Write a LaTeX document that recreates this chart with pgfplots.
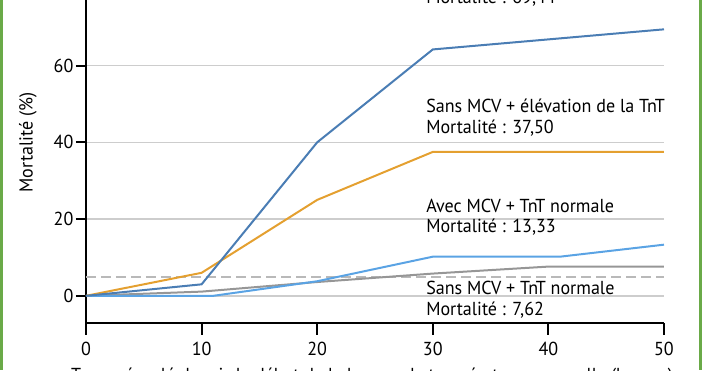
\documentclass[border=0pt]{standalone}
\usepackage{fontspec}
\setmainfont[FakeStretch=0.96]{PT Sans}
\usepackage{pgfplots}
\pgfplotsset{compat=1.18}
\definecolor{dblue}{RGB}{74,125,180}
\definecolor{lblue}{RGB}{90,163,228}
\definecolor{orng}{RGB}{228,160,48}
\definecolor{lgray}{RGB}{150,150,150}
\definecolor{dashgray}{RGB}{185,185,185}
\definecolor{gridgray}{RGB}{205,205,205}
\definecolor{bordergreen}{RGB}{106,170,72}
\newcommand{\lf}{\fontsize{9.4}{11}\selectfont}
\begin{document}
\begin{tikzpicture}[x=1pt,y=1pt]
\useasboundingbox (-43,-23.65) rectangle (308,161.35);
\clip (-43,-23.65) rectangle (308,161.35);
\begin{axis}[
  at={(0,0)}, anchor=south west,
  scale only axis, width=289pt, height=166.95pt,
  xmin=0, xmax=50, ymin=-7, ymax=80,
  axis x line*=bottom, axis y line*=left,
  xtick={0,10,20,30,40,50}, ytick={0,20,40,60,80},
  tick align=outside,
  xtick style={black, line width=1pt, /pgfplots/major tick length=6pt},
  ytick style={black, line width=1pt, /pgfplots/major tick length=5pt},
  axis line style={black, line width=1pt},
  ymajorgrids, grid style={gridgray, line width=0.8pt},
  tick label style={font=\lf},
  xticklabel style={yshift=-2pt},
  yticklabel style={xshift=1.5pt},
  /pgf/number format/assume math mode=true,
  clip=false,
]
\addplot[dashgray, line width=0.8pt, dash pattern=on 5pt off 2.5pt] coordinates {(0,4.87) (50,4.87)};
\addplot[lgray, line width=1pt] coordinates {(0,0) (10,1.1) (20,3.6) (30,5.8) (40,7.62) (50,7.62)};
\addplot[lblue, line width=1pt] coordinates {(0,0) (11,0) (20,3.8) (30,10.2) (41,10.2) (50,13.33)};
\addplot[orng, line width=1pt] coordinates {(0,0) (10,6) (20,25) (30,37.5) (50,37.5)};
\addplot[dblue, line width=1pt] coordinates {(0,0) (10,3) (20,40) (30,64.2) (50,69.44)};
\node[anchor=west, inner sep=0, font=\lf] at (axis cs:29.4,83.3) {Avec MCV + élévation de la TnT};
\node[anchor=west, inner sep=0, font=\lf] at (axis cs:29.4,77.6) {Mortalité : 69,44};
\node[anchor=west, inner sep=0, font=\lf] at (axis cs:29.4,49.5) {Sans MCV + élévation de la TnT};
\node[anchor=west, inner sep=0, font=\lf] at (axis cs:29.4,43.75) {Mortalité : 37,50};
\node[anchor=west, inner sep=0, font=\lf] at (axis cs:29.4,23.5) {Avec MCV + TnT normale};
\node[anchor=west, inner sep=0, font=\lf] at (axis cs:29.4,17.8) {Mortalité : 13,33};
\node[anchor=west, inner sep=0, font=\lf] at (axis cs:29.4,2.16) {Sans MCV + TnT normale};
\node[anchor=west, inner sep=0, font=\lf] at (axis cs:29.4,-3.65) {Mortalité : 7,62};
\end{axis}
\node[rotate=90, inner sep=0, font=\lf] at (-29,90.1) {Mortalité (\%)};
\node[anchor=north, inner sep=0, font=\lf] at (143,-22.2) {Temps écoulé depuis le début de la hausse de température corporelle (heures)};
\fill[bordergreen] (-43,-23.65) rectangle (-41.5,161.35);
\fill[bordergreen] (306.5,-23.65) rectangle (308,161.35);
\end{tikzpicture}
\end{document}
